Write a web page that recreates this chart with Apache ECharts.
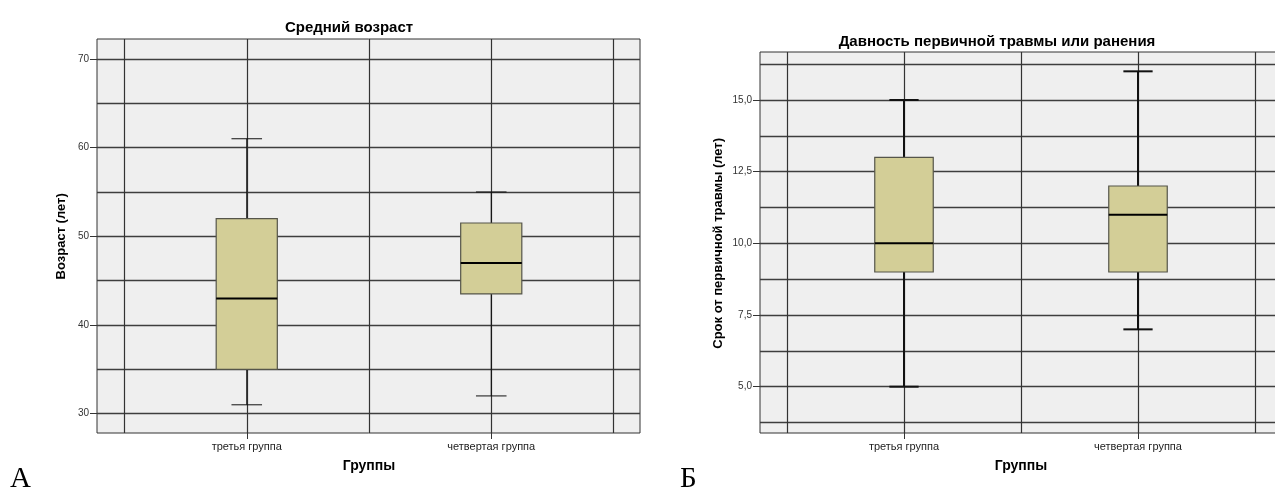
<!DOCTYPE html>
<html><head><meta charset="utf-8">
<script src="https://cdn.jsdelivr.net/npm/echarts@6/dist/echarts.min.js"></script>
<style>html,body{margin:0;padding:0;background:#fff}#c{width:1275px;height:490px}</style>
</head><body><div id="c"></div>
<script>
// ---- data ----
const groups = ['третья группа', 'четвертая группа'];
const ageMin = [31, 32];
const ageQ1 = [35, 43.5];
const ageMedian = [43, 47];
const ageQ3 = [52, 51.5];
const ageMax = [61, 55];
const traumaMin = [5, 7];
const traumaQ1 = [9, 9];
const traumaMedian = [10, 11];
const traumaQ3 = [13, 12];
const traumaMax = [15, 16];
const ageTicks = [30, 40, 50, 60, 70];
const traumaTicks = [5, 7.5, 10, 12.5, 15];

const FONT = '"Liberation Sans", Arial, sans-serif';
const grid = [], xAxis = [], yAxis = [], series = [];

function panel(p) {
  const py = v => p.top + (p.yTop - v) / (p.yTop - p.yBottom) * (p.bottom - p.top);
  const g0 = grid.length;
  const common = { outerBoundsMode: 'none', containLabel: false };
  const W = p.right - p.left, H = p.bottom - p.top;
  grid.push(Object.assign({}, common, { left: p.left, width: W, top: p.top, height: H, show: true,
    backgroundColor: '#efefef', borderColor: '#333', borderWidth: 1 }));
  grid.push(Object.assign({}, common, { left: p.left, width: W, top: py(p.splitTo), height: py(p.splitFrom) - py(p.splitTo) }));
  const t0 = p.ticks[0], t1 = p.ticks[p.ticks.length - 1];
  grid.push(Object.assign({}, common, { left: p.left, width: W, top: py(t1), height: py(t0) - py(t1) }));
  grid.push(Object.assign({}, common, { left: p.catLeft, width: p.catRight - p.catLeft, top: p.top, height: H }));

  const hiddenX = gi => ({ gridIndex: gi, type: 'value', show: false });
  xAxis.push(hiddenX(g0), hiddenX(g0 + 1), hiddenX(g0 + 2));
  const catIdx = xAxis.length;
  xAxis.push({
    gridIndex: g0 + 3, type: 'category', data: groups, boundaryGap: true, position: 'bottom',
    axisLine: { show: false },
    axisTick: { show: true, alignWithLabel: true, length: 6, lineStyle: { color: '#333', width: 1 } },
    axisLabel: { margin: 8, fontSize: 11, color: '#222', fontFamily: FONT },
    splitLine: { show: false },
    name: 'Группы', nameLocation: 'middle', nameGap: p.xNameGap,
    nameTextStyle: { fontSize: 14, fontWeight: 'bold', color: '#000', fontFamily: FONT }
  });
  xAxis.push({
    gridIndex: g0 + 3, type: 'value', position: 'top', min: 0, max: groups.length * 2, interval: 1,
    axisLine: { show: false }, axisTick: { show: false }, axisLabel: { show: false },
    splitLine: { show: true, lineStyle: { color: '#333', width: 1.2 } }
  });

  yAxis.push({ gridIndex: g0, type: 'value', show: false });
  yAxis.push({
    gridIndex: g0 + 1, type: 'value', position: 'left', min: p.splitFrom, max: p.splitTo, interval: p.splitStep,
    axisLine: { show: false }, axisTick: { show: false }, axisLabel: { show: false },
    splitLine: { show: true, lineStyle: { color: '#3e3e3e', width: 1.4 } }
  });
  yAxis.push({
    gridIndex: g0 + 2, type: 'value', position: 'left', min: t0, max: t1, interval: p.ticks[1] - p.ticks[0],
    axisLine: { show: false },
    axisTick: { show: true, length: 7, lineStyle: { color: '#333', width: 1 } },
    axisLabel: { margin: 8, fontSize: 10, color: '#333', fontFamily: FONT, formatter: p.fmt },
    splitLine: { show: false },
    name: p.yName, nameLocation: 'middle', nameGap: p.yNameGap,
    nameTextStyle: { fontSize: 13, fontWeight: 'bold', color: '#000', fontFamily: FONT }
  });
  const boxY = yAxis.length;
  yAxis.push({ gridIndex: g0 + 3, type: 'value', min: p.yBottom, max: p.yTop, show: false });

  const d = p.data;
  series.push({
    type: 'custom', xAxisIndex: catIdx, yAxisIndex: boxY, silent: true, clip: false,
    data: groups.map((g, i) => [i, d.min[i], d.q1[i], d.med[i], d.q3[i], d.max[i]]),
    encode: { x: 0, y: [1, 2, 3, 4, 5] },
    renderItem: function (params, api) {
      const i = api.value(0);
      const pMin = api.coord([i, api.value(1)]);
      const cx = pMin[0];
      const yMin = pMin[1];
      const yQ1 = api.coord([i, api.value(2)])[1];
      const yMed = api.coord([i, api.value(3)])[1];
      const yQ3 = api.coord([i, api.value(4)])[1];
      const yMax = api.coord([i, api.value(5)])[1];
      const band = api.size([1, 0])[0];
      const bw = band * 0.25, cw = band * 0.125;
      const ws = { stroke: '#111', lineWidth: p.whisker };
      return { type: 'group', children: [
        { type: 'line', shape: { x1: cx, y1: yMax, x2: cx, y2: yMin }, style: ws },
        { type: 'line', shape: { x1: cx - cw / 2, y1: yMax, x2: cx + cw / 2, y2: yMax }, style: ws },
        { type: 'line', shape: { x1: cx - cw / 2, y1: yMin, x2: cx + cw / 2, y2: yMin }, style: ws },
        { type: 'rect', shape: { x: cx - bw / 2, y: yQ3, width: bw, height: yQ1 - yQ3 },
          style: { fill: '#d3ce97', stroke: '#55554a', lineWidth: 1.2 } },
        { type: 'line', shape: { x1: cx - bw / 2, y1: yMed, x2: cx + bw / 2, y2: yMed },
          style: { stroke: '#000', lineWidth: 2 } }
      ] };
    }
  });
}

panel({
  left: 97, right: 640, top: 39, bottom: 433, yTop: 72.25, yBottom: 27.82,
  catLeft: 124.5, catRight: 613.5, splitFrom: 30, splitTo: 70, splitStep: 5,
  ticks: ageTicks, fmt: v => String(v), yName: 'Возраст (лет)', yNameGap: 29, xNameGap: 26,
  whisker: 1,
  data: { min: ageMin, q1: ageQ1, med: ageMedian, q3: ageQ3, max: ageMax }
});
panel({
  left: 760, right: 1282, top: 52, bottom: 433, yTop: 16.674, yBottom: 3.385,
  catLeft: 787, catRight: 1255, splitFrom: 3.75, splitTo: 16.25, splitStep: 1.25,
  ticks: traumaTicks, fmt: v => v.toFixed(1).replace('.', ','), yName: 'Срок от первичной травмы (лет)',
  yNameGap: 35, xNameGap: 26, whisker: 2,
  data: { min: traumaMin, q1: traumaQ1, med: traumaMedian, q3: traumaQ3, max: traumaMax }
});

const chart = echarts.init(document.getElementById('c'), null, { renderer: 'canvas' });
chart.setOption({
  animation: false,
  backgroundColor: '#fff',
  title: [
    { text: 'Средний возраст', left: 344, top: 15, textAlign: 'center',
      textStyle: { fontSize: 15, fontWeight: 'bold', color: '#000', fontFamily: FONT } },
    { text: 'Давность первичной травмы или ранения', left: 992, top: 29, textAlign: 'center',
      textStyle: { fontSize: 15, fontWeight: 'bold', color: '#000', fontFamily: FONT } }
  ],
  grid: grid, xAxis: xAxis, yAxis: yAxis, series: series,
  graphic: [
    { type: 'text', left: 10, top: 465, style: { text: 'А', font: '29px "Liberation Serif", "Times New Roman", serif', fill: '#000' } },
    { type: 'text', left: 680, top: 465, style: { text: 'Б', font: '29px "Liberation Serif", "Times New Roman", serif', fill: '#000' } }
  ]
});
</script>
</body></html>
